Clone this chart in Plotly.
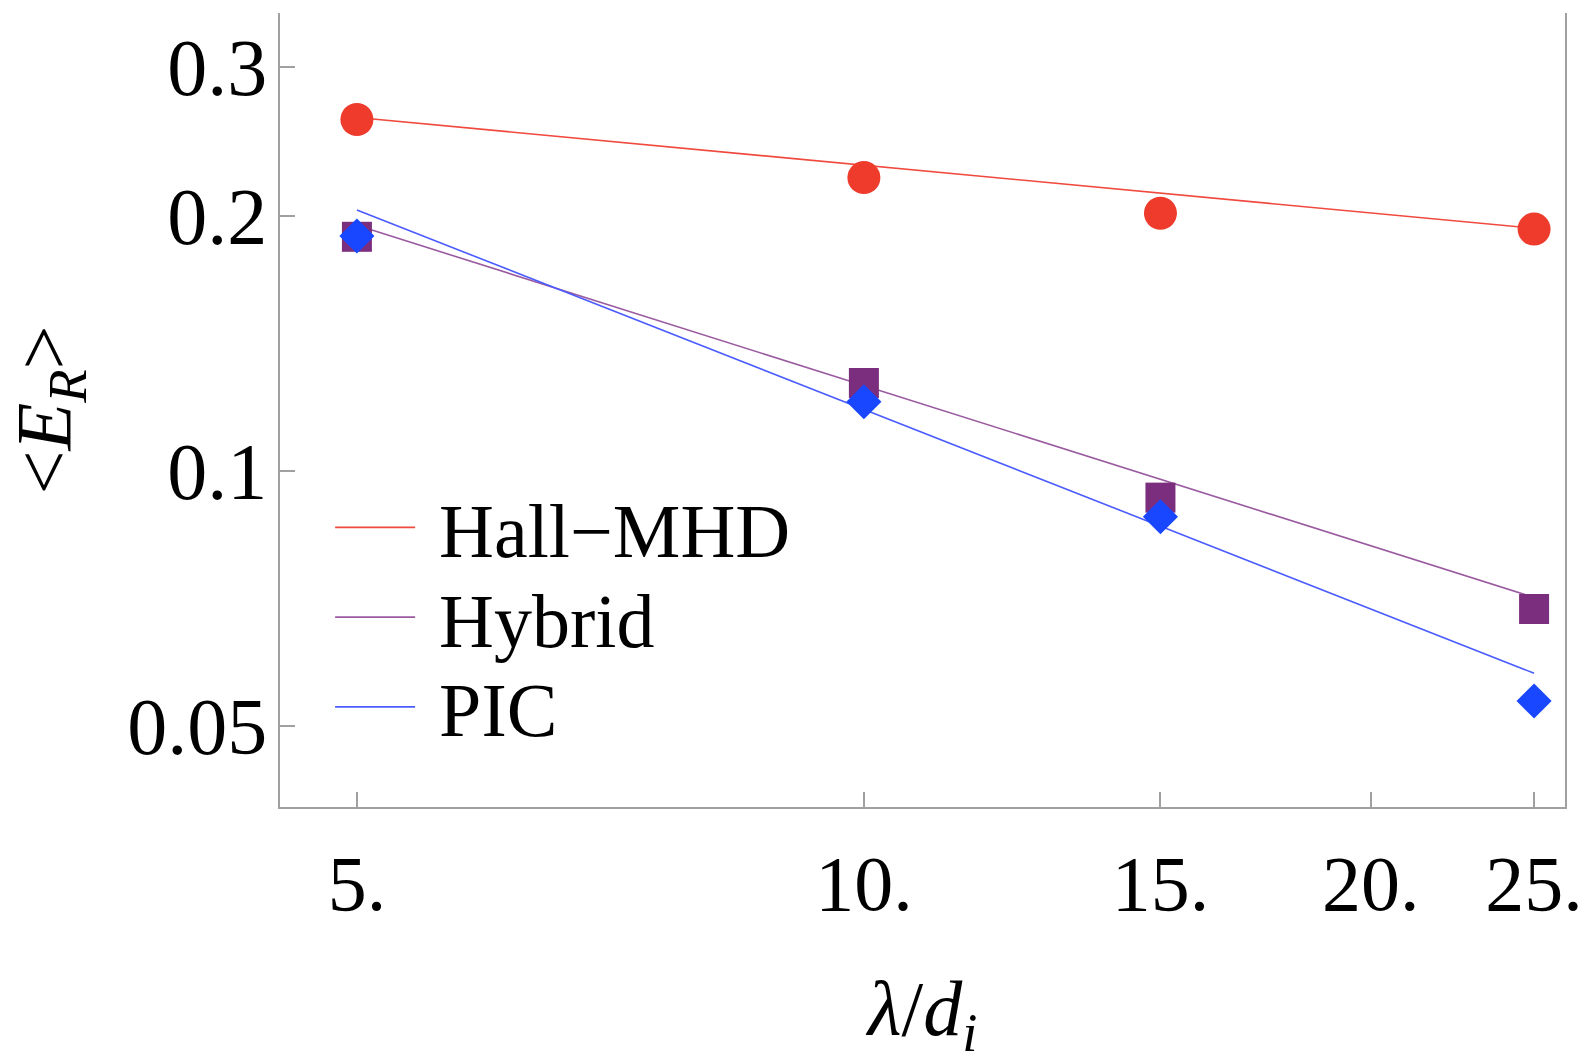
import plotly.graph_objects as go

# ---- data ----
lam = [5, 10, 15, 25]
hall_mhd = [0.260, 0.222, 0.2015, 0.193]
hybrid = [0.189, 0.127, 0.093, 0.0687]
pic = [0.1894, 0.1207, 0.0883, 0.0535]

fit_x = [5, 25]
hall_fit = [0.2614, 0.1934]
hybrid_fit = [0.195, 0.0709]
pic_fit = [0.2033, 0.0577]

x_ticks = [5, 10, 15, 20, 25]
x_tick_text = ["5.", "10.", "15.", "20.", "25."]
y_ticks = [0.05, 0.1, 0.2, 0.3]
y_tick_text = ["0.05", "0.1", "0.2", "0.3"]

names = ["Hall\u2212MHD", "Hybrid", "PIC"]
red = "#EE3B2C"
purple = "#7B2D7E"
blue = "#1946FF"

FONT = "Liberation Serif"

fig = go.Figure()

# fit lines (legend entries, one legend box per row)
for yv, col, nm, lg in [(hall_fit, "#F04A3E", names[0], "legend"),
                        (hybrid_fit, "#9A5AA0", names[1], "legend2"),
                        (pic_fit, "#4A5CFF", names[2], "legend3")]:
    fig.add_trace(go.Scatter(x=fit_x, y=yv, mode="lines", name="\u00a0" + nm,
                             line=dict(color=col, width=1.6), showlegend=True,
                             legend=lg))

# data markers
fig.add_trace(go.Scatter(x=lam, y=hall_mhd, mode="markers", showlegend=False,
                         marker=dict(symbol="circle", size=33, color=red)))
fig.add_trace(go.Scatter(x=lam, y=hybrid, mode="markers", showlegend=False,
                         marker=dict(symbol="square", size=30, color=purple)))
fig.add_trace(go.Scatter(x=lam, y=pic, mode="markers", showlegend=False,
                         marker=dict(symbol="diamond", size=27, color=blue)))

axis_common = dict(
    showgrid=False, zeroline=False, showline=True, linecolor="#A0A0A0",
    linewidth=1.5, ticks="inside", tickcolor="#A0A0A0", tickwidth=1.5,
    ticklen=15, automargin=False,
)

leg_common = dict(x=0.039, xanchor="left", yanchor="middle",
                  bgcolor="rgba(0,0,0,0)", font=dict(family=FONT, size=76),
                  itemwidth=80)

fig.update_layout(
    width=1591, height=1063,
    margin=dict(l=280, r=26, t=13, b=256, autoexpand=False),
    plot_bgcolor="white", paper_bgcolor="white",
    font=dict(family=FONT, color="black"),
    xaxis=dict(type="log", range=[0.6533, 1.4163], tickvals=x_ticks,
               ticktext=x_tick_text, mirror=False, ticklabelstandoff=8,
               tickfont=dict(family=FONT, size=78, color="black"),
               title=dict(text="<i>\u03bb</i>/<i>d</i><sub><i>i</i></sub>",
                          font=dict(family=FONT, size=78), standoff=84),
               **axis_common),
    yaxis=dict(type="log", range=[-1.3968, -0.4593], tickvals=y_ticks,
               ticktext=y_tick_text, mirror=True, ticklabelstandoff=-5,
               tickfont=dict(family=FONT, size=80, color="black"),
               title=dict(text="&lt;<i>E</i><sub><i>R</i></sub>&gt;",
                          font=dict(family=FONT, size=78), standoff=33),
               **axis_common),
    legend=dict(y=0.352, **leg_common),
    legend2=dict(y=0.239, **leg_common),
    legend3=dict(y=0.126, **leg_common),
)

fig.write_html("out.html")
